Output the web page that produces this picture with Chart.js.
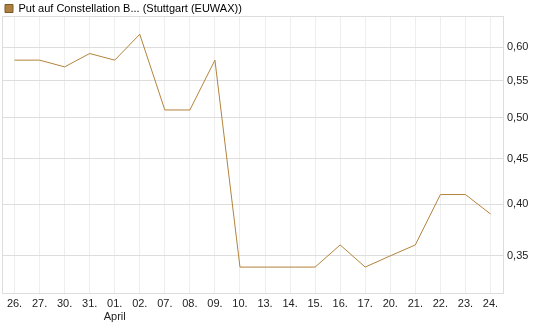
<!DOCTYPE html>
<html>
<head>
<meta charset="utf-8">
<script src="https://cdn.jsdelivr.net/npm/chart.js@4.4.0/dist/chart.umd.min.js"></script>
<style>
html,body{margin:0;padding:0;background:#fff;}
#wrap{width:545px;height:327px;position:relative;}
</style>
</head>
<body>
<div id="wrap"><canvas id="c" width="545" height="327"></canvas></div>
<script>
const categories = ["26.","27.","30.","31.","01.","02.","07.","08.","09.","10.","13.","14.","15.","16.","17.","20.","21.","22.","23.","24."];
const monthLabels = {"01.":"April"};
const seriesName = "Put auf Constellation B... (Stuttgart (EUWAX))";
const values = [0.58,0.58,0.57,0.59,0.58,0.62,0.51,0.51,0.58,0.34,0.34,0.34,0.34,0.36,0.34,0.35,0.36,0.41,0.41,0.39];
const yTicks = [0.35,0.40,0.45,0.50,0.55,0.60];
const yMin = 0.318, yMax = 0.65;

const lineColor = '#b3833a';

const borderPlugin = {
  id: 'frame',
  beforeLayout(chart){
    const l = chart.legend;
    if (l && !l._patched) {
      const f = l.fit;
      l.fit = function(){ f.call(this); this.height = 16; };
      l._patched = true;
    }
  },
  afterDraw(chart){
    const a = chart.chartArea, ctx = chart.ctx;
    ctx.save();
    ctx.strokeStyle = '#dddddd';
    ctx.lineWidth = 1;
    ctx.beginPath();
    ctx.moveTo(Math.round(a.left)+0.5, Math.round(a.bottom)+0.5);
    ctx.lineTo(Math.round(a.left)+0.5, Math.round(a.top)+0.5);
    ctx.lineTo(Math.round(a.right)+0.5, Math.round(a.top)+0.5);
    ctx.stroke();
    ctx.restore();
  }
};

new Chart(document.getElementById('c'), {
  type: 'line',
  data: {
    labels: categories.map(c => monthLabels[c] ? [c, monthLabels[c]] : c),
    datasets: [{
      label: seriesName,
      data: values,
      borderColor: lineColor,
      backgroundColor: '#b08040',
      borderWidth: 1,
      pointRadius: 0,
      tension: 0,
      fill: false
    }]
  },
  plugins: [borderPlugin],
  options: {
    responsive: false,
    animation: false,
    devicePixelRatio: 1,
    layout: { padding: { left: 2, right: 0, top: 0, bottom: 0 } },
    plugins: {
      legend: {
        display: true,
        align: 'start',
        labels: {
          boxWidth: 8, boxHeight: 8, padding: 3,
          color: '#222',
          font: { family: 'Liberation Sans, Arial, sans-serif', size: 11 },
          generateLabels(chart){
            return [{ text: seriesName, fillStyle: '#b08040', strokeStyle: '#7a5a2a', lineWidth: 1, datasetIndex: 0 }];
          }
        }
      },
      tooltip: { enabled: false }
    },
    scales: {
      x: {
        type: 'category',
        offset: true,
        grid: { offset: false, color: '#eeeeee', drawTicks: false },
        border: { color: '#dddddd' },
        ticks: {
          autoSkip: false, maxRotation: 0, padding: 4,
          color: '#222',
          font: { family: 'Liberation Sans, Arial, sans-serif', size: 11 }
        },
        afterFit(s){ s.height = 34; }
      },
      y: {
        type: 'logarithmic',
        position: 'right',
        min: yMin, max: yMax,
        grid: { color: '#dddddd', drawTicks: false },
        border: { color: '#dddddd' },
        afterBuildTicks(s){ s.ticks = yTicks.map(v => ({ value: v })); },
        ticks: {
          padding: 4,
          color: '#222',
          font: { family: 'Liberation Sans, Arial, sans-serif', size: 11 },
          callback: v => v.toFixed(2).replace('.', ',')
        },
        afterFit(s){ s.width = 42; }
      }
    }
  }
});
</script>
</body>
</html>
